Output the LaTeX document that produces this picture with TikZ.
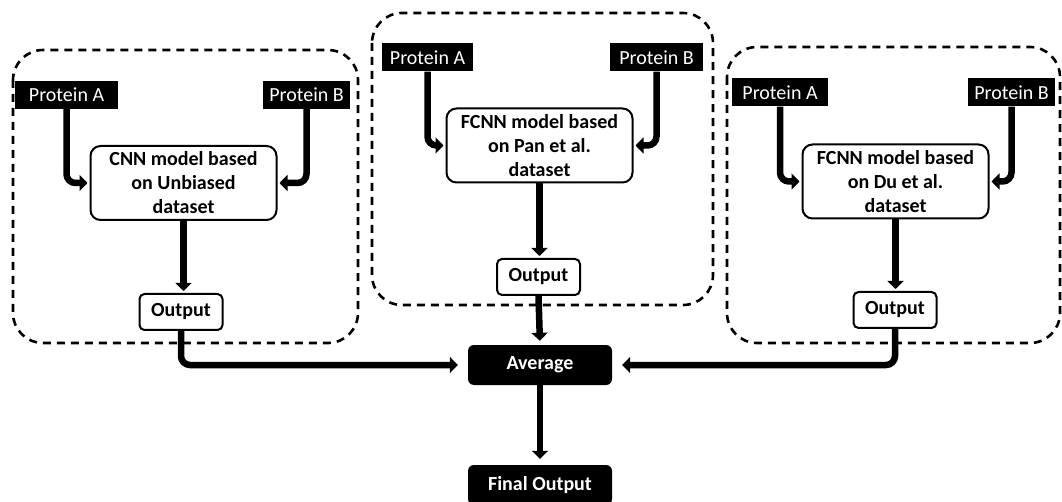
\documentclass[tikz,border=0pt]{standalone}
\usepackage{fontspec}
\setmainfont{Carlito}
\usetikzlibrary{arrows.meta,calc}

\begin{document}
\begin{tikzpicture}[x=1pt,y=-1pt,
  txt/.style={font=\fontsize{20}{24}\selectfont},
  btxt/.style={font=\fontsize{20}{24}\selectfont\bfseries},
  group/.style={draw, line width=2.6pt, dash pattern=on 8pt off 6pt, rounded corners=30pt},
  protein/.style={txt, fill=black, text=white, inner sep=0pt, minimum height=28pt},
  model/.style={btxt, draw, line width=2pt, rounded corners=10pt, align=center,
                inner sep=0pt, minimum width=186pt, minimum height=74pt},
  outbox/.style={btxt, draw, line width=2pt, rounded corners=5pt, inner sep=0pt,
                 minimum width=83pt, minimum height=36pt},
  darkbox/.style={btxt, fill=black, text=white, rounded corners=6pt, inner sep=0pt,
                  minimum width=144pt, minimum height=40pt},
  flow/.style={line width=6.5pt, -{Triangle[width=16pt,length=8pt]}, rounded corners=9pt,
               shorten >=2pt}]

\useasboundingbox (0,0) rectangle (1062,502);

% dashed frames of the three models
\draw[group] (13,50) rectangle (358,343);
\draw[group] (372,13) rectangle (713,305);
\draw[group] (727,47) rectangle (1060,343);

% left model
\node[protein, minimum width=103pt] (pa1) at (66.5,95) {Protein A};
\node[protein, minimum width=87pt]  (pb1) at (306.5,95) {Protein B};
\node[model] (m1) at (183.5,183) {CNN model based\\on Unbiased\\dataset};
\node[outbox] (o1) at (181,312) {Output};

% middle model
\node[protein, minimum width=91pt] (pa2) at (427.5,57.5) {Protein A};
\node[protein, minimum width=93pt] (pb2) at (656.5,57.5) {Protein B};
\node[model] (m2) at (539.5,145.5) {FCNN model based\\on Pan et al.\\dataset};
\node[outbox] (o2) at (538.5,277) {Output};

% right model
\node[protein, minimum width=96pt] (pa3) at (780,92.5) {Protein A};
\node[protein, minimum width=87pt] (pb3) at (1011.5,92.5) {Protein B};
\node[model] (m3) at (895.5,181.5) {FCNN model based\\on Du et al.\\dataset};
\node[outbox] (o3) at (895,310) {Output};

% ensemble
\node[darkbox] (avg) at (540,365) {Average};
\node[darkbox] (fin) at (540,485) {Final Output};

% inputs into each model
\draw[flow] (pa1.south) |- (m1.west);
\draw[flow] (pb1.south) |- (m1.east);
\draw[flow] (pa2.south) |- (m2.west);
\draw[flow] (pb2.south) |- (m2.east);
\draw[flow] (pa3.south) |- (m3.west);
\draw[flow] (pb3.south) |- (m3.east);

% model outputs
\draw[flow] (m1.south) -- (m1.south |- o1.north);
\draw[flow] (m2.south) -- (m2.south |- o2.north);
\draw[flow] (m3.south) -- (m3.south |- o3.north);

% averaging
\draw[flow, shorten >=10pt] (o1.south) |- (avg.west);
\draw[flow, shorten >=10pt] (o3.south) |- (avg.east);
\draw[flow, shorten >=4pt] (o2.south) -- (avg.north);
\draw[flow, shorten >=6pt] (avg.south) -- (fin.north);
\end{tikzpicture}
\end{document}
